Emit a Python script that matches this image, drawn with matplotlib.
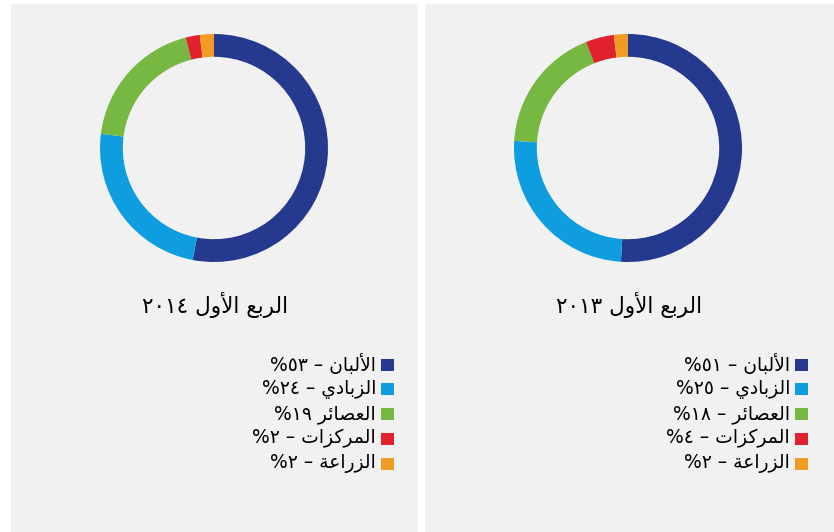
import re
import matplotlib
matplotlib.use("Agg")
import matplotlib.pyplot as plt
from matplotlib.patches import Rectangle

# ---------------- data ----------------
categories = ["الألبان", "الزبادي", "العصائر", "المركزات", "الزراعة"]
titles = ["الربع الأول ٢٠١٤", "الربع الأول ٢٠١٣"]
values_2014 = [53, 24, 19, 2, 2]
values_2013 = [51, 25, 18, 4, 2]
labels_2014 = ["الألبان – ٥٣%", "الزبادي – ٢٤%", "العصائر ١٩%",
               "المركزات – ٢%", "الزراعة – ٢%"]
labels_2013 = ["الألبان – ٥١%", "الزبادي – ٢٥%", "العصائر – ١٨%",
               "المركزات – ٤%", "الزراعة – ٢%"]
colors = ["#25398e", "#0e9ddf", "#77b843", "#e0212e", "#f29b22"]

# ---------------- simple Arabic shaping + visual ordering ----------------
FORMS = {
    '\u0627': ('\uFE8D', '\uFE8E', None, None),
    '\u0623': ('\uFE83', '\uFE84', None, None),
    '\u0628': ('\uFE8F', '\uFE90', '\uFE91', '\uFE92'),
    '\u0629': ('\uFE93', '\uFE94', None, None),
    '\u062A': ('\uFE95', '\uFE96', '\uFE97', '\uFE98'),
    '\u062F': ('\uFEA9', '\uFEAA', None, None),
    '\u0631': ('\uFEAD', '\uFEAE', None, None),
    '\u0632': ('\uFEAF', '\uFEB0', None, None),
    '\u0635': ('\uFEB9', '\uFEBA', '\uFEBB', '\uFEBC'),
    '\u0639': ('\uFEC9', '\uFECA', '\uFECB', '\uFECC'),
    '\u0643': ('\uFED9', '\uFEDA', '\uFEDB', '\uFEDC'),
    '\u0644': ('\uFEDD', '\uFEDE', '\uFEDF', '\uFEE0'),
    '\u0645': ('\uFEE1', '\uFEE2', '\uFEE3', '\uFEE4'),
    '\u0646': ('\uFEE5', '\uFEE6', '\uFEE7', '\uFEE8'),
    '\u0648': ('\uFEED', '\uFEEE', None, None),
    '\u064A': ('\uFEF1', '\uFEF2', '\uFEF3', '\uFEF4'),
    '\u0626': ('\uFE89', '\uFE8A', '\uFE8B', '\uFE8C'),
}
LAM_ALEF = {'\u0627': ('\uFEFB', '\uFEFC', None, None),
            '\u0623': ('\uFEF7', '\uFEF8', None, None)}


def shape(text):
    units = []
    i = 0
    while i < len(text):
        c = text[i]
        if c == '\u0644' and i + 1 < len(text) and text[i + 1] in LAM_ALEF:
            units.append(LAM_ALEF[text[i + 1]])
            i += 2
            continue
        units.append(FORMS.get(c, c))
        i += 1
    out = []
    for k, u in enumerate(units):
        if isinstance(u, str):
            out.append(u)
            continue
        prev = units[k - 1] if k > 0 else None
        nxt = units[k + 1] if k + 1 < len(units) else None
        jp = isinstance(prev, tuple) and prev[2] is not None
        jn = u[2] is not None and isinstance(nxt, tuple)
        if jp and jn:
            out.append(u[3])
        elif jp:
            out.append(u[1])
        elif jn:
            out.append(u[2])
        else:
            out.append(u[0])
    s = ''.join(out)[::-1]
    s = re.sub(r'[0-9\u0660-\u0669]+', lambda m: m.group(0)[::-1], s)
    return s


# ---------------- figure ----------------
W, H = 834, 532
fig = plt.figure(figsize=(W / 100, H / 100), dpi=100)
fig.patch.set_facecolor('white')

FONT = ['DejaVu Sans']
panels = [
    dict(x0=11, x1=418, cx=214, title=titles[0], values=values_2014,
         labels=labels_2014, sq_x=381, tx=376),
    dict(x0=425, x1=834, cx=628, title=titles[1], values=values_2013,
         labels=labels_2013, sq_x=795, tx=790),
]

R = 114
CY = 148
for p in panels:
    fig.add_artist(Rectangle((p['x0'] / W, 0), (p['x1'] - p['x0']) / W, (H - 4) / H,
                             transform=fig.transFigure, facecolor='#f1f1f1',
                             edgecolor='none', zorder=0))
    ax = fig.add_axes([(p['cx'] - R) / W, (H - CY - R) / H, 2 * R / W, 2 * R / H])
    ax.pie(p['values'], colors=colors, startangle=90, counterclock=False, radius=1,
           wedgeprops=dict(width=0.2, edgecolor='none', linewidth=0))
    ax.set_xlim(-1, 1)
    ax.set_ylim(-1, 1)
    ax.axis('off')

    fig.text((p['cx'] + 1) / W, 1 - 305 / H, shape(p['title']), ha='center', va='center',
             fontsize=15.5, family=FONT, color='black')

    for i, (lab, col) in enumerate(zip(p['labels'], colors)):
        y = 364.5 + 24.8 * i
        fig.add_artist(Rectangle((p['sq_x'] / W, 1 - (y + 6) / H), 13 / W, 12 / H,
                                 transform=fig.transFigure, facecolor=col,
                                 edgecolor='none', zorder=2))
        fig.text(p['tx'] / W, 1 - y / H, shape(lab), ha='right', va='center',
                 fontsize=13.5, family=FONT, color='black')

fig.savefig('out.png', dpi=100, facecolor=fig.get_facecolor())
